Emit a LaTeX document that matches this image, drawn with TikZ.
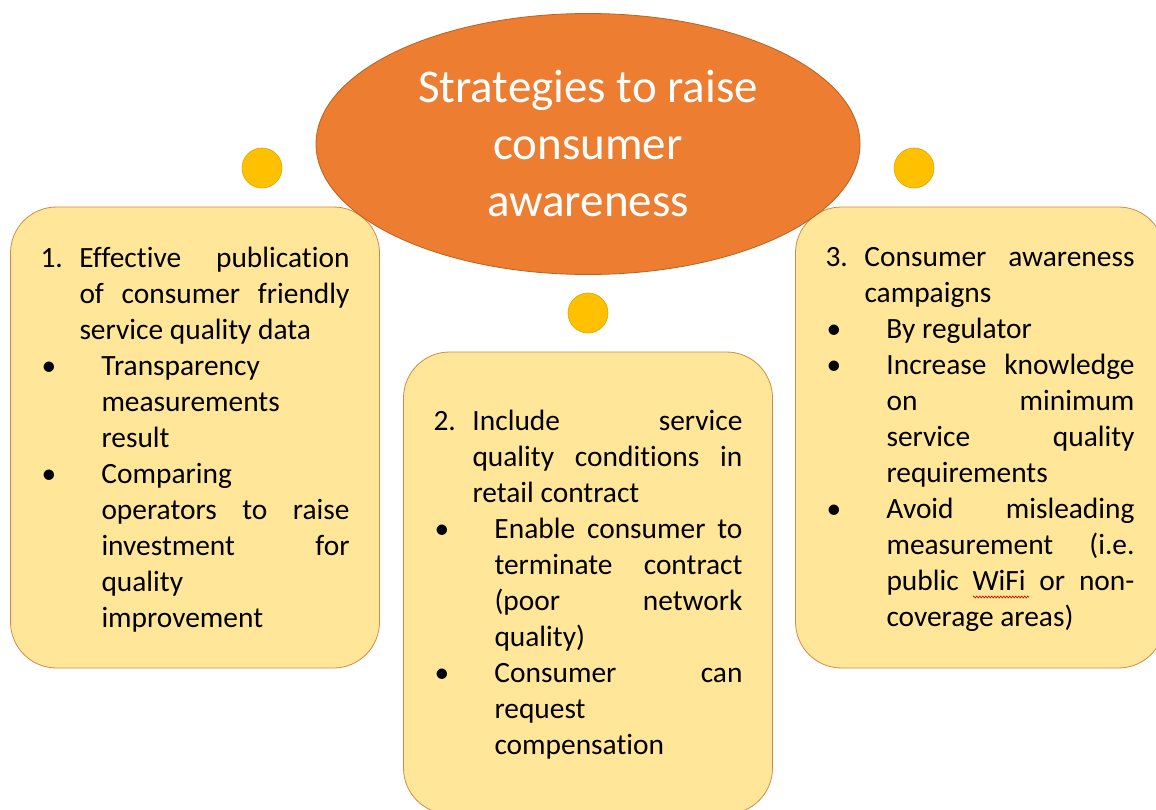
\documentclass[tikz,border=0pt]{standalone}
\usepackage{fontspec}
\setmainfont{Carlito}[Ligatures=NoCommon]
\usepackage{tikz}
\usetikzlibrary{shapes.geometric,decorations.pathmorphing}
\definecolor{titleorange}{HTML}{ED7D31}
\definecolor{titleedge}{HTML}{B9621F}
\definecolor{panelfill}{HTML}{FFE699}
\definecolor{paneledge}{HTML}{CF8A48}
\definecolor{dotfill}{HTML}{FFC000}
\definecolor{dotedge}{HTML}{E0A400}

% numbered heading and bullet lines inside a panel
\newcommand{\numline}[1]{\par\noindent\hangindent=39pt\hangafter=1\makebox[39pt][l]{#1}\ignorespaces}
\newcommand{\bulline}{\par\noindent\hangindent=61pt\hangafter=1\makebox[61pt][l]{\hspace{1pt}\textbullet}\ignorespaces}

\tikzset{
  panel/.style={draw=paneledge, line width=0.8pt, fill=panelfill, rounded corners=46pt,
    minimum width=369pt, minimum height=461pt},
  paneltext/.style={text width=309pt, inner sep=0pt, yshift=6pt,
    align=justify, font=\fontsize{29.4}{36}\selectfont,
    execute at begin node={\tolerance=10000\hbadness=10000\hyphenpenalty=10000}},
  topic/.style={ellipse, draw=titleedge, line width=0.8pt, fill=titleorange, text=white,
    minimum width=544pt, minimum height=261pt, align=center,
    font=\fontsize{47}{57}\selectfont},
  dot/.style={circle, draw=dotedge, line width=0.6pt, fill=dotfill, minimum size=40pt, inner sep=0pt},
  spellmark/.style={red!85!black, line width=0.6pt,
    decorate, decoration={zigzag, segment length=3pt, amplitude=1pt}}
}

\begin{document}
\begin{tikzpicture}[x=1pt,y=-1pt]
  \useasboundingbox (0,0) rectangle (1156,810);

  % the three strategy panels
  \node[panel] (effective) at (195,437.5) {};
  \node[panel, minimum height=462pt] (contract) at (588,583) {};
  \node[panel] (campaign) at (980,437.5) {};

  \node[paneltext] (effectivetext) at (effective) {%
    \numline{1.}Effective publication\linebreak of consumer friendly\linebreak service quality data
    \bulline Transparency\linebreak measurements\linebreak result
    \bulline Comparing\linebreak operators to raise\linebreak investment for\linebreak quality\linebreak improvement\par};
  \node[paneltext] (contracttext) at (contract) {%
    \numline{2.}Include service\linebreak quality conditions in\linebreak retail contract
    \bulline Enable consumer to\linebreak terminate contract\linebreak (poor network\linebreak quality)
    \bulline Consumer can\linebreak request\linebreak compensation\par};
  \node[paneltext] (campaigntext) at (campaign) {%
    \numline{3.}Consumer awareness\linebreak campaigns
    \bulline By regulator
    \bulline Increase knowledge\linebreak on minimum\linebreak service quality\linebreak requirements
    \bulline Avoid misleading\linebreak measurement (i.e.\linebreak public WiFi or non-\linebreak coverage areas)\par};

  % spell check mark under WiFi
  \coordinate (wifiL) at (973,597);
  \coordinate (wifiR) at (1029,597);
  \draw[spellmark] (wifiL) -- (wifiR);

  % centre topic on top of the panels
  \node[topic] (topic) at (588,144) {Strategies to raise\\consumer\\awareness};

  % small markers
  \node[dot] (dotleft) at (262,168) {};
  \node[dot] (dotmid) at (588,313) {};
  \node[dot] (dotright) at (914,168) {};
\end{tikzpicture}
\end{document}
